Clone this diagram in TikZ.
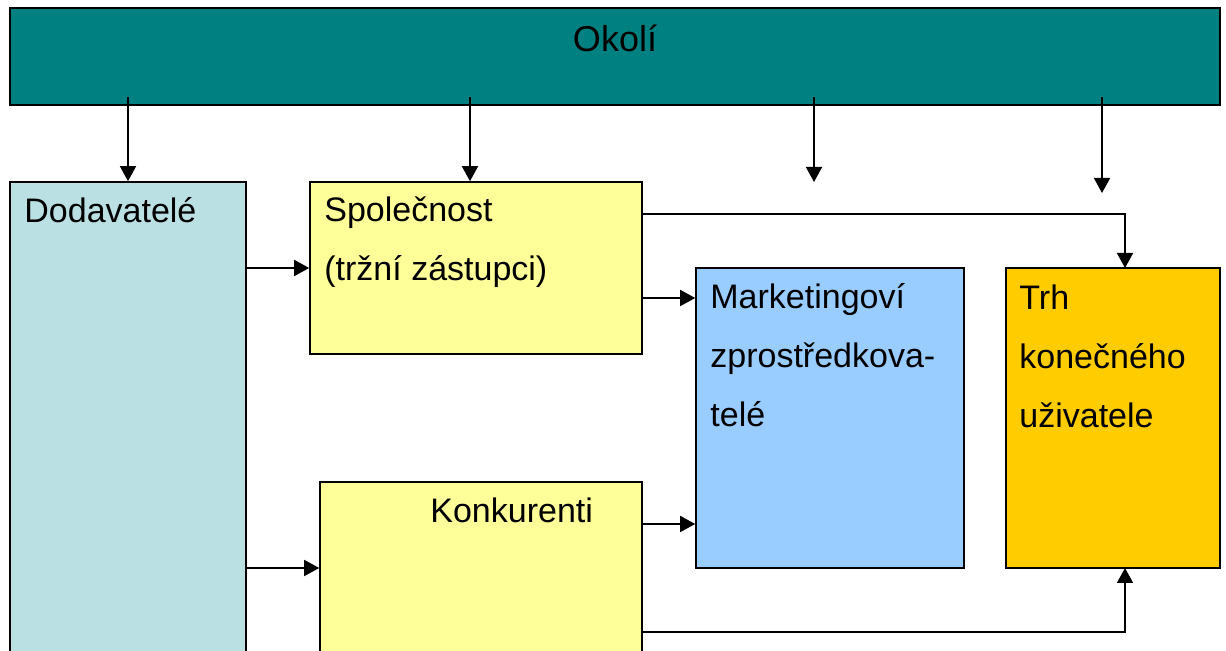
\documentclass[tikz,border=0pt]{standalone}
\usepackage{fontspec}
\setmainfont{Liberation Sans}
\usetikzlibrary{arrows.meta,positioning,calc}
\usepackage{xcolor}
\definecolor{okoli}{HTML}{008080}
\definecolor{dodav}{HTML}{BBE0E3}
\definecolor{spolec}{HTML}{FFFF99}
\definecolor{market}{HTML}{99CCFF}
\definecolor{trhcol}{HTML}{FFCC00}
\tikzset{
  box/.style={rectangle,draw=black,line width=0.8pt,inner sep=0pt},
  txt/.style={inner sep=0pt,align=left,font=\fontsize{17}{29.5}\selectfont},
  arr/.style={-{Triangle[length=7.5pt,width=8pt]},line width=0.8pt,color=black},
}

\begin{document}
\begin{tikzpicture}[x=0.5pt,y=-0.5pt]
  \useasboundingbox (0,0) rectangle (1226,651);
  \clip (0,0) rectangle (1226,651);

  \node[box,fill=okoli,minimum width=605pt,minimum height=48.5pt] (okoli) at (615,56.5){};
  \node[box,fill=dodav,minimum width=118pt,minimum height=269pt] (dod) at (128,451){};
  \node[box,fill=spolec,minimum width=166pt,minimum height=86pt] (spol) at (476,268){};
  \node[box,fill=spolec,minimum width=161pt,minimum height=86pt] (konk) at (481,568){};
  \node[box,fill=market,minimum width=134pt,minimum height=150pt] (mark) at (830,418){};
  \node[box,fill=trhcol,minimum width=107pt,minimum height=150pt] (trh) at (1113,418){};

  % texts (base = baseline of the last line)
  \node[txt,anchor=base,font=\fontsize{18}{20}\selectfont] (okolit) at (615,51.7){Okolí};
  \node[txt,anchor=base west] (dodt) at (24,222.7){Dodavatelé};
  \node[txt,anchor=base west] (spolt) at (324,280.5){Společnost\\(tržní zástupci)};
  \node[txt,anchor=base west] (konkt) at (430,522.7){Konkurenti};
  \node[txt,anchor=base west] (markt) at (710,427){Marketingoví\\zprostředkova-\\telé};
  \node[txt,anchor=base west] (trht) at (1019,427.5){Trh\\konečného\\uživatele};

  % arrows from the environment
  \coordinate (o1) at (128,97);
  \coordinate (o2) at (470,97);
  \coordinate (o3) at (814,97);
  \coordinate (o4) at (1102,97);
  \coordinate (e3) at (814,182);
  \coordinate (e4) at (1102,193);
  \draw[arr] (o1)--(dod.north);
  \draw[arr] (o2)--(o2 |- spol.north);
  \draw[arr] (o3)--(e3);
  \draw[arr] (o4)--(e4);

  \coordinate (sm) at (642,298);
  \coordinate (km) at (642,524);
  \coordinate (st) at (642,214);
  \coordinate (kt) at (642,632);
  \coordinate (tn) at (1125,268);
  \coordinate (ts) at (1125,568);
  \draw[arr] (dod.east |- spol.west)--(spol.west);
  \draw[arr] (dod.east |- konk.west)--(konk.west);
  \draw[arr] (sm)--(sm -| mark.west);
  \draw[arr] (km)--(km -| mark.west);
  \draw[arr] (st)-|(tn);
  \draw[arr] (kt)-|(ts);
\end{tikzpicture}
\end{document}
